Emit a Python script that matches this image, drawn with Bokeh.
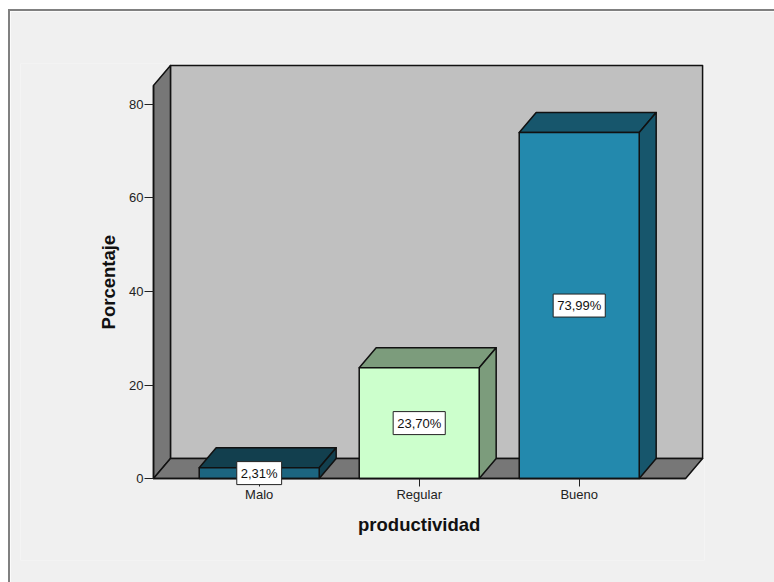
import math
from bokeh.embed import file_html
from bokeh.resources import INLINE
from bokeh.plotting import figure
from bokeh.models import FixedTicker, Label, Range1d

categories = ["Malo", "Regular", "Bueno"]
percent = [2.31, 23.70, 73.99]
value_labels = ["2,31%", "23,70%", "73,99%"]
y_ticks = [0, 20, 40, 60, 80]
front_colors = ["#1c6580", "#ccffcc", "#2389ad"]
shade_colors = ["#123f4e", "#7c9c7c", "#17566c"]

FONT = "Liberation Sans"
BAR_W = 0.75
DX = 0.106
DY = 4.28
X0, X1 = -0.6606, 2.665
Y_TOP = 84.05

p = figure(width=764, height=571, output_backend="svg", toolbar_location=None,
           x_range=Range1d(-1.4919, 2.783), y_range=Range1d(-17.54, 88.77),
           min_border_left=10, min_border_right=70, min_border_top=52, min_border_bottom=22,
           background_fill_color="#f0f0f0", background_fill_alpha=1,
           border_fill_color="#f0f0f0", border_fill_alpha=1, outline_line_color=None,
           margin=(11, 0, 0, 10), styles={"outline": "2px solid #808080"})
p.grid.visible = False

edge = dict(line_color="#111111", line_width=1.5, line_join="round")
p.patch([X0 + DX, X1 + DX, X1 + DX, X0 + DX], [DY, DY, Y_TOP + DY, Y_TOP + DY], fill_color="#c0c0c0", **edge)
p.patch([X0, X0 + DX, X0 + DX, X0], [0, DY, Y_TOP + DY, Y_TOP], fill_color="#777777", **edge)
p.patch([X0, X1, X1 + DX, X0 + DX], [0, 0, DY, DY], fill_color="#777777", **edge)

for i, v in enumerate(percent):
    l, r = i - BAR_W / 2, i + BAR_W / 2
    p.patch([l, r, r + DX, l + DX], [v, v, v + DY, v + DY], fill_color=shade_colors[i], **edge)
    p.patch([r, r + DX, r + DX, r], [0, DY, v + DY, v], fill_color=shade_colors[i], **edge)
    p.patch([l, r, r, l], [0, 0, v, v], fill_color=front_colors[i], **edge)
    p.add_layout(Label(x=i, y=v / 2, text=value_labels[i], text_align="center", text_baseline="middle",
                       text_font=FONT, text_font_size="13px", text_color="#111111",
                       background_fill_color="white", border_line_color="#222222", border_line_width=1,
                       padding=4))

p.xaxis.ticker = FixedTicker(ticks=list(range(len(categories))))
p.xaxis.major_label_overrides = {i: c for i, c in enumerate(categories)}
p.yaxis.ticker = FixedTicker(ticks=y_ticks)
p.xaxis.bounds = (X0, X1)
p.yaxis.bounds = (0, Y_TOP)
p.xaxis.fixed_location = 0
p.yaxis.fixed_location = X0

for ax in (p.xaxis, p.yaxis):
    ax.axis_line_color = "#111111"
    ax.axis_line_width = 1.5
    ax.major_tick_line_color = "#222222"
    ax.major_tick_line_width = 1
    ax.major_tick_in = 0
    ax.minor_tick_line_color = None
    ax.major_label_text_font = FONT
    ax.major_label_text_font_size = "13px"
    ax.major_label_text_color = "#222222"
p.xaxis.major_tick_out = 8
p.yaxis.major_tick_out = 9
p.xaxis.major_label_standoff = 0
p.yaxis.major_label_standoff = 1
p.yaxis.major_label_orientation = "horizontal"

title_style = dict(text_font=FONT, text_font_size="18.5px", text_font_style="bold", text_color="#111111",
                   text_align="center", text_baseline="middle")
p.add_layout(Label(x=1.0, y=-9.9, text="productividad", **title_style))
p.add_layout(Label(x=-0.944, y=42.0, text="Porcentaje", angle=math.pi / 2, **title_style))

open("out.html", "w").write(file_html(p, INLINE))
